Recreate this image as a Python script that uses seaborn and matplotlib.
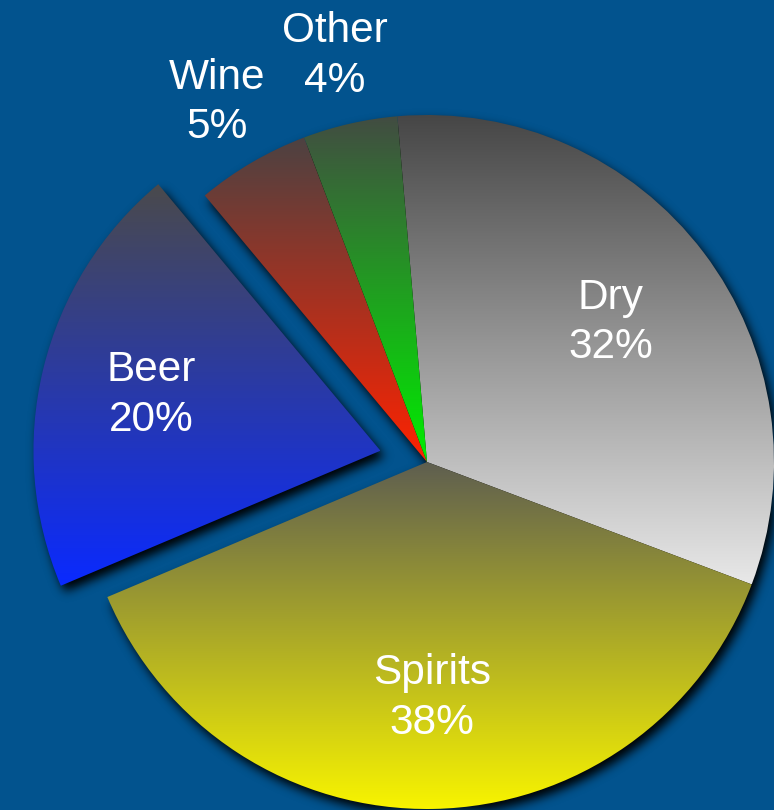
import numpy as np
import matplotlib
matplotlib.use("Agg")
import matplotlib.pyplot as plt
import seaborn as sns
from matplotlib.colors import to_rgb

# ---- data ----
categories = ["Dry", "Spirits", "Beer", "Wine", "Other"]
shares = [32.1, 37.9, 20.3, 5.3, 4.4]
explode = [0, 0, 0.138, 0, 0]

# ---- style ----
top_colors = ["#464646", "#5e5e50", "#4a4a4c", "#4c4242", "#424c42"]
bottom_colors = ["#e8e8e8", "#f8f400", "#0a2aff", "#ff2200", "#00ee00"]
label_r = [0.665, 0.68, 0.68, 1.2, 1.2]
BG = "#02538e"

sns.set_style("white")
plt.rcParams["font.family"] = ["Liberation Sans", "DejaVu Sans"]

W, H, DPI = 774, 810, 100
R = 347.0
CX, CY = 427.0, 462.0  # pie centre in pixels from top-left

fig = plt.figure(figsize=(W / DPI, H / DPI), dpi=DPI, facecolor=BG)
ax = fig.add_axes([0, 0, 1, 1])
ax.set_facecolor(BG)

wedges, _ = ax.pie(shares, explode=explode, startangle=94.9, counterclock=False,
                   radius=1, center=(0, 0),
                   wedgeprops=dict(linewidth=0, facecolor="none", edgecolor="none"))
ax.set_aspect("auto")
xlim = (-CX / R, (W - CX) / R)
ylim = (-(H - CY) / R, CY / R)
ax.set_xlim(*xlim)
ax.set_ylim(*ylim)
ax.axis("off")

# ---- drop shadow (blurred raster of the pie outline) ----
yy, xx = np.mgrid[0:H, 0:W]
pts = np.column_stack([xx.ravel() + 0.5, yy.ravel() + 0.5])
mask = np.zeros(H * W, dtype=float)
for w in wedges:
    p = w.get_path().transformed(ax.transData)
    mask = np.maximum(mask, p.contains_points(pts).astype(float))
mask = mask.reshape(H, W)  # row 0 = bottom in display coords
dx, dy = 4, 6
shifted = np.zeros_like(mask)
shifted[: H - dy, dx:] = mask[dy:, : W - dx]
sigma = 5.0
rad = int(3 * sigma)
k = np.exp(-0.5 * (np.arange(-rad, rad + 1) / sigma) ** 2)
k /= k.sum()
pad = np.pad(shifted, rad, mode="constant")
tmp = np.zeros((pad.shape[0], W))
for i, kv in enumerate(k):
    tmp += kv * pad[:, i:i + W]
blur = np.zeros((H, W))
for i, kv in enumerate(k):
    blur += kv * tmp[i:i + H, :]
shadow = np.zeros((H, W, 4))
shadow[..., 3] = np.clip(blur * 1.0, 0, 1)
ax.imshow(shadow, extent=(xlim[0], xlim[1], ylim[0], ylim[1]), origin="lower",
          aspect="auto", zorder=1, interpolation="nearest")

# ---- gradient fills clipped to each wedge ----
n = 256
t = np.linspace(0, 1, n)[:, None]
for w, c0, c1 in zip(wedges, top_colors, bottom_colors):
    a = np.array(to_rgb(c0))
    b = np.array(to_rgb(c1))
    grad = (a[None, :] * (1 - t) + b[None, :] * t)[:, None, :]
    ext = w.get_path().get_extents()
    im = ax.imshow(grad, extent=(ext.x0, ext.x1, ext.y0, ext.y1), origin="upper",
                   aspect="auto", zorder=2, interpolation="bilinear")
    im.set_clip_path(w)

# ---- labels ----
for w, cat, v, lr in zip(wedges, categories, shares, label_r):
    ang = np.deg2rad((w.theta1 + w.theta2) / 2)
    cx0, cy0 = w.center
    ax.text(cx0 + lr * np.cos(ang), cy0 + lr * np.sin(ang), f"{cat}\n{v:.0f}%",
            ha="center", va="center", color="white", fontsize=30.5,
            linespacing=1.3, zorder=5)

ax.set_xlim(*xlim)
ax.set_ylim(*ylim)
fig.savefig("out.png", dpi=DPI, facecolor=BG)
